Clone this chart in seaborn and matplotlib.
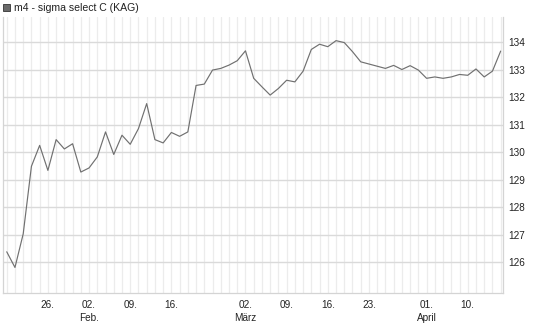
import numpy as np
import pandas as pd
import seaborn as sns
import matplotlib
matplotlib.use("Agg")
import matplotlib.pyplot as plt
from matplotlib.patches import Rectangle

title = "m4 - sigma select C (KAG)"
values = [126.38, 125.81, 127.03, 129.49, 130.25, 129.34, 130.46, 130.12, 130.31, 129.28,
          129.43, 129.83, 130.74, 129.92, 130.62, 130.29, 130.86, 131.77, 130.46, 130.34,
          130.72, 130.58, 130.74, 132.43, 132.48, 132.99, 133.05, 133.17, 133.33, 133.69,
          132.69, 132.38, 132.08, 132.32, 132.62, 132.56, 132.95, 133.74, 133.93, 133.84,
          134.06, 133.99, 133.66, 133.29, 133.21, 133.13, 133.05, 133.16, 133.01, 133.15,
          132.99, 132.69, 132.74, 132.69, 132.74, 132.83, 132.80, 133.03, 132.74, 132.95,
          133.68]
tick_pos = [5, 10, 15, 20, 29, 34, 39, 44, 51, 56]
tick_labels = ["26.", "02.\nFeb.", "09.", "16.", "02.\nMärz", "09.", "16.", "23.", "01.\nApril", "10."]
y_ticks = [126, 127, 128, 129, 130, 131, 132, 133, 134]

df = pd.DataFrame({"idx": np.arange(len(values)), "value": values})

sns.set_style("white")
plt.rcParams['font.family'] = ['Liberation Sans', 'DejaVu Sans']

W, H = 545, 327
fig = plt.figure(figsize=(W / 100, H / 100), dpi=100)
ax = fig.add_axes([2.7 / W, (H - 293.3) / H, (503.3 - 2.7) / W, (293.3 - 17) / H])

# vertical grid (every day)
for i in range(len(values)):
    ax.axvline(i, color="#ececec", lw=0.9, zorder=0)
for yv in y_ticks:
    ax.axhline(yv, color="#dadada", lw=1.0, zorder=0)

sns.lineplot(data=df, x="idx", y="value", ax=ax, color="#707070", lw=0.85, zorder=3)

ax.set_xlim(-0.49, 60.32)
ax.set_ylim(124.87, 134.92)
ax.set_xlabel("")
ax.set_ylabel("")

ax.yaxis.tick_right()
ax.set_yticks(y_ticks)
ax.set_yticklabels([str(v) for v in y_ticks], fontsize=7.2, color="#222222")
ax.tick_params(axis="y", length=0, pad=3.5)

ax.set_xticks(tick_pos)
ax.set_xticklabels(tick_labels, fontsize=7.2, color="#222222", linespacing=1.35)
ax.set_xticks(np.arange(len(values)), minor=True)
ax.tick_params(axis="x", which="major", length=2, color="#d8d8d8", pad=3)
ax.tick_params(axis="x", which="minor", length=2, color="#e4e4e4")

for s in ["left", "bottom", "right"]:
    ax.spines[s].set_color("#d4d4d4")
    ax.spines[s].set_linewidth(0.9)
ax.spines["top"].set_visible(False)

fig.patches.append(Rectangle((3 / W, (H - 11) / H), 7 / W, 7 / H, transform=fig.transFigure,
                             facecolor="#6a6a6a", edgecolor="#333333", lw=0.6))
fig.text(14 / W, (H - 8) / H, title, fontsize=7.6, color="#222222", va="center", ha="left")

fig.savefig("out.png", dpi=100)
